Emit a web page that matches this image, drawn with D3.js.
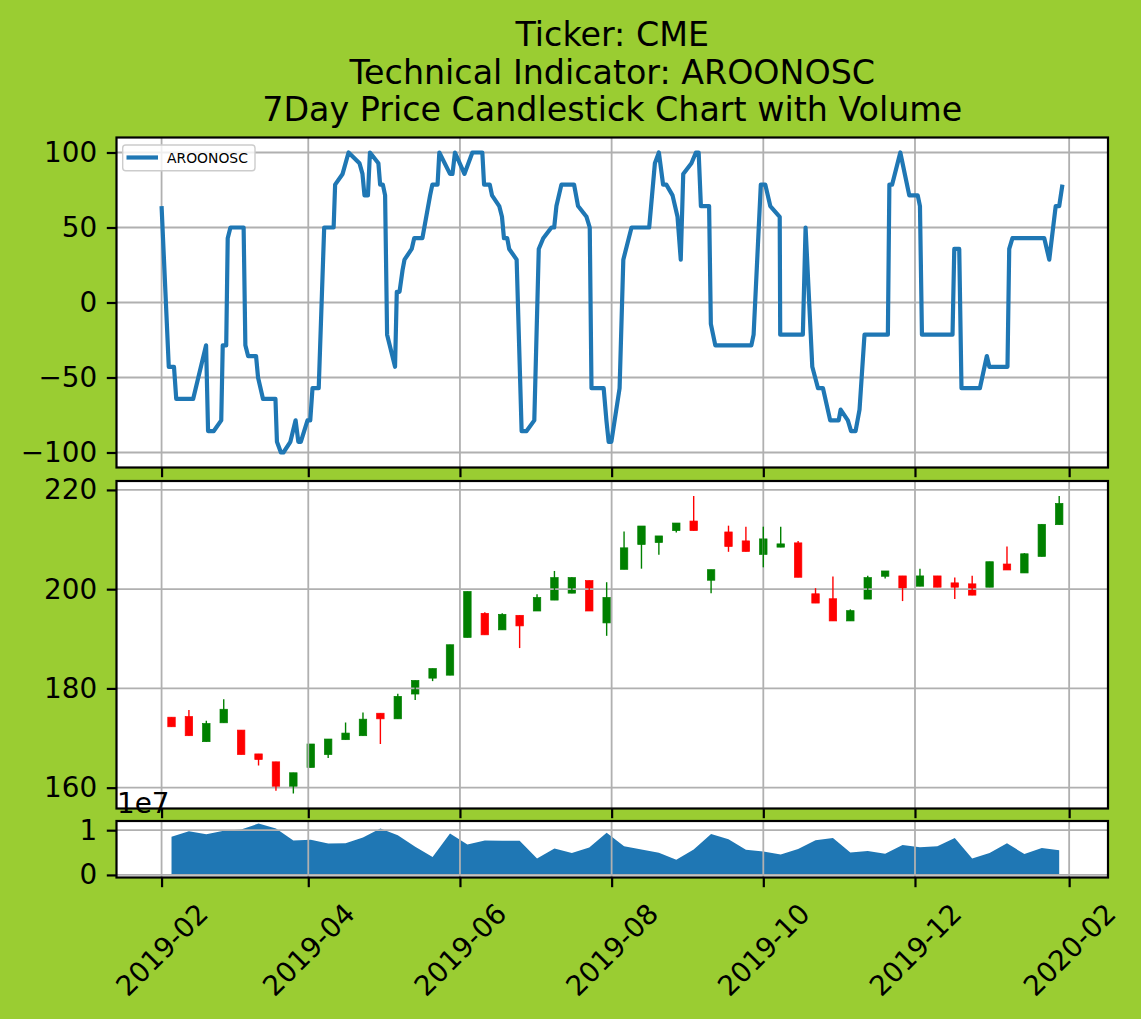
<!DOCTYPE html>
<html>
<head>
<meta charset="utf-8">
<script src="https://cdn.jsdelivr.net/npm/d3@7"></script>
<style>
  html, body { margin: 0; padding: 0; background: #9acd32; }
  svg { display: block; }
  text { font-family: "DejaVu Sans", sans-serif; fill: #000; }
</style>
</head>
<body>
<div id="chart"></div>
<script>
// ---- data ----
const titleLines = ['Ticker: CME', 'Technical Indicator: AROONOSC', '7Day Price Candlestick Chart with Volume'];

// AROONOSC, days after 2019-02-01
const aroonStart = '2019-02-01';
const aroonDay = [0, 2.9, 5, 5.9, 12.7, 17.9, 18.7, 21, 24, 24.6, 26, 26.6, 27.7, 33, 33.7, 34.8, 38, 38.8, 40.8, 45.8,
  46.4, 48, 49, 51.8, 53.9, 55, 56, 58.7, 59.8, 60.7, 63.2, 65.4, 69.2, 69.8, 72.8, 75.2, 79.6, 80.8, 81.6, 83,
  83.8, 87.2, 87.9, 89, 89.9, 90.7, 93.9, 94.6, 95.7, 96.9, 97.7, 100.6, 101.6, 104.9, 108, 108.9, 111, 111.7, 116, 117,
  118, 121.8, 125, 129, 129.7, 132, 132.9, 135.8, 136.9, 137.7, 139, 139.8, 142.8, 143.8, 144.8, 146.8, 149.9, 151.7, 153.5, 156.8,
  157.9, 158.8, 160.8, 165.9, 167.5, 170.9, 172.2, 172.9, 177.8, 178.9, 179.8, 180.9, 184.2, 185.7, 189, 196.1, 198.4, 200, 201.7, 203,
  205.5, 207.5, 208.8, 209.8, 213.1, 214.9, 216, 216.9, 220.2, 220.9, 222.7, 237.2, 238.1, 241, 242.8, 244.8, 248.6, 248.8, 257.9, 259,
  261.7, 264, 266, 268.9, 272.3, 273.1, 276, 277.3, 279.1, 280.7, 282.7, 292.1, 292.7, 293.8, 297.1, 300.7, 304.1, 305, 305.8, 318.1,
  318.8, 320.8, 321.7, 329.1, 331.9, 332.9, 340.2, 340.9, 342.2, 355, 357, 359.6, 361, 362.3];
const aroonValue = [64.29, -42.86, -42.86, -64.29, -64.29, -28.57, -85.71, -85.71, -78.57, -28.57, -28.57, 42.86, 50, 50, -28.57, -35.71, -35.71, -50, -64.29, -64.29,
  -92.86, -100, -100, -92.86, -78.57, -92.86, -92.86, -78.57, -78.57, -57.14, -57.14, 50, 50, 78.57, 85.71, 100, 92.86, 85.71, 71.43, 71.43,
  100, 92.86, 78.57, 78.57, 71.43, -21.43, -42.86, 7.14, 7.14, 21.43, 28.57, 35.71, 42.86, 42.86, 71.43, 78.57, 78.57, 100, 85.71, 85.71,
  100, 85.71, 100, 100, 78.57, 78.57, 71.43, 64.29, 57.14, 42.86, 42.86, 35.71, 28.57, -28.57, -85.71, -85.71, -78.57, 35.71, 42.86, 50,
  50, 64.29, 78.57, 78.57, 64.29, 57.14, 50, -57.14, -57.14, -78.57, -92.86, -92.86, -57.14, 28.57, 50, 50, 92.86, 100, 78.57, 78.57,
  71.43, 57.14, 28.57, 85.71, 92.86, 100, 100, 64.29, 64.29, -14.29, -28.57, -28.57, -21.43, 78.57, 78.57, 64.29, 57.14, -21.43, -21.43, 50,
  -42.86, -57.14, -57.14, -78.57, -78.57, -71.43, -78.57, -85.71, -85.71, -71.43, -21.43, -21.43, 78.57, 78.57, 100, 71.43, 71.43, 64.29, -21.43, -21.43,
  35.71, 35.71, -57.14, -57.14, -35.71, -42.86, -42.86, 35.71, 42.86, 42.86, 28.57, 64.29, 64.29, 78.57];

// weekly candles
const candleDates = ['2019-02-05', '2019-02-12', '2019-02-19', '2019-02-26', '2019-03-05', '2019-03-12', '2019-03-19', '2019-03-26',
  '2019-04-02', '2019-04-09', '2019-04-16', '2019-04-23', '2019-04-30', '2019-05-07', '2019-05-14', '2019-05-21', '2019-05-28',
  '2019-06-04', '2019-06-11', '2019-06-18', '2019-06-25', '2019-07-02', '2019-07-09', '2019-07-16', '2019-07-23', '2019-07-30',
  '2019-08-06', '2019-08-13', '2019-08-20', '2019-08-27', '2019-09-03', '2019-09-10', '2019-09-17', '2019-09-24', '2019-10-01',
  '2019-10-08', '2019-10-15', '2019-10-22', '2019-10-29', '2019-11-05', '2019-11-12', '2019-11-19', '2019-11-26', '2019-12-03',
  '2019-12-10', '2019-12-17', '2019-12-24', '2019-12-31', '2020-01-07', '2020-01-14', '2020-01-21', '2020-01-28'];
const openPrice = [174.2, 174.33, 169.27, 173.07, 171.6, 166.8, 165.2, 160.27, 164.07, 166.67, 169.67, 170.47, 175, 173.87, 178.87, 182.07, 182.67,
  190.27, 195.13, 191.8, 194.73, 195.6, 197.8, 199.2, 201.73, 193.2, 204, 209, 209.4, 211.8, 213.73, 201.8, 211.53, 209.73, 207,
  208.47, 209.33, 199.07, 198.07, 193.6, 198, 202.6, 202.67, 200.6, 202.67, 201.27, 201.07, 200.4, 205.07, 203.27, 206.6, 213];
const highPrice = [174.2, 175.67, 173.47, 177.8, 171.6, 166.8, 165.2, 163, 168.8, 169.8, 173.13, 175.13, 175, 178.93, 181.6, 184, 188.8,
  199.53, 195.33, 195.13, 194.73, 199, 203.67, 202.4, 201.73, 201.4, 211.6, 212.73, 210.73, 213.33, 218.8, 203.93, 212.8, 212.6, 212.6,
  212.6, 209.73, 200.2, 202.53, 195.93, 202.73, 203.67, 202.67, 204.13, 202.67, 202.33, 202.73, 205.53, 208.6, 207.27, 213.07, 218.8];
const lowPrice = [172.27, 170.47, 169.27, 173.07, 166.67, 164.47, 159.4, 158.8, 164.07, 166, 169.67, 170.47, 168.8, 173.87, 177.67, 181.47, 182.67,
  190.27, 190.8, 191.8, 188.13, 195.6, 197.8, 199.2, 195.6, 190.6, 204, 204.13, 206.93, 211.4, 211.8, 199.2, 207.53, 207.6, 204.4,
  208.47, 202.4, 197.2, 193.6, 193.6, 198, 202.13, 197.6, 200.6, 200.4, 198, 198.8, 200.4, 203.87, 203.27, 206.6, 213];
const closePrice = [172.27, 170.47, 172.93, 175.8, 166.67, 165.67, 160.27, 163, 168.8, 169.8, 171, 173.8, 173.87, 178.4, 181.6, 184, 188.8,
  199.53, 190.8, 194.93, 192.6, 198.33, 202.33, 202.33, 195.6, 198.33, 208.33, 212.73, 210.73, 213.33, 211.8, 203.93, 208.6, 207.6, 210.13,
  209.13, 202.4, 197.2, 193.6, 195.67, 202.33, 203.67, 200.2, 202.67, 200.4, 200.4, 198.8, 205.53, 203.87, 207.13, 213.07, 217.27];
const volume = [8.52e6, 9.78e6, 9.11e6, 9.85e6, 1.015e7, 1.148e7, 1.04e7, 7.7e6, 7.85e6, 7.0e6, 7.1e6, 8.37e6, 1.037e7, 8.89e6, 6.3e6, 4.0e6, 9.26e6,
  6.8e6, 7.7e6, 7.63e6, 7.63e6, 3.7e6, 5.93e6, 4.89e6, 6.15e6, 9.4e6, 6.39e6, 5.71e6, 4.96e6, 3.38e6, 5.71e6, 9.17e6, 7.97e6, 5.64e6, 5.26e6,
  4.59e6, 5.79e6, 7.74e6, 8.27e6, 5.04e6, 5.34e6, 4.74e6, 6.69e6, 6.17e6, 6.39e6, 8.27e6, 3.68e6, 4.89e6, 7.07e6, 4.66e6, 6.02e6, 5.49e6];

// ticks
const xTickDates = ['2019-02-01', '2019-04-01', '2019-06-01', '2019-08-01', '2019-10-01', '2019-12-01', '2020-02-01'];
const aroonTicks = [-100, -50, 0, 50, 100];
const priceTicks = [160, 180, 200, 220];
const volumeTicks = [0, 1e7];

// ---- layout ----
const W = 1141, H = 1019;
const left = 116.5, right = 1108;
const panels = {
  top: { y0: 137.5, y1: 467.5 },
  mid: { y0: 481, y1: 808.5 },
  bot: { y0: 821, y1: 877.5 },
};
const FS = 27.8, tickLen = 9.7, tickPad = 9.7;
const gridColor = '#b0b0b0';
const blue = '#1f77b4';
const candleWidthDays = 3;

const parse = d3.timeParse('%Y-%m-%d');
const start = parse(aroonStart);
const dayToDate = d => new Date(start.getTime() + d * 864e5);

const aroon = aroonDay.map((d, i) => ({ date: dayToDate(d), value: aroonValue[i] }));
const candles = candleDates.map((d, i) => ({
  date: parse(d), open: openPrice[i], high: highPrice[i], low: lowPrice[i], close: closePrice[i], volume: volume[i],
}));

// matplotlib style 5% margins
function padded(lo, hi) {
  const m = (hi - lo) * 0.05;
  return [lo - m, hi + m];
}

const halfW = candleWidthDays / 2 * 864e5;
const xMin = Math.min(d3.min(aroon, d => +d.date), d3.min(candles, d => +d.date - halfW));
const xMax = Math.max(d3.max(aroon, d => +d.date), d3.max(candles, d => +d.date + halfW));
const x = d3.scaleTime()
  .domain(padded(xMin, xMax).map(v => new Date(v)))
  .range([left, right]);

const yTop = d3.scaleLinear()
  .domain(padded(d3.min(aroonValue), d3.max(aroonValue)))
  .range([panels.top.y1, panels.top.y0]);
const yMid = d3.scaleLinear()
  .domain(padded(d3.min(lowPrice), d3.max(highPrice)))
  .range([panels.mid.y1, panels.mid.y0]);
const yBot = d3.scaleLinear()
  .domain(padded(0, d3.max(volume)))
  .range([panels.bot.y1, panels.bot.y0]);

const svg = d3.select('#chart').append('svg')
  .attr('width', W)
  .attr('height', H);

svg.append('rect').attr('width', W).attr('height', H).attr('fill', '#9acd32');

// title
svg.append('g').selectAll('text')
  .data(titleLines)
  .join('text')
  .attr('x', (left + right) / 2)
  .attr('y', (d, i) => 46 + i * 37.5)
  .attr('text-anchor', 'middle')
  .style('font-size', '33.3px')
  .text(d => d);

const minus = v => (v < 0 ? '\u2212' + Math.abs(v) : String(v));
const xTicks = xTickDates.map(parse);

function panel(key, yScale, yTicks, yFormat, drawUnder, drawOver, showXLabels) {
  const p = panels[key];
  const g = svg.append('g');
  g.append('rect')
    .attr('x', left).attr('y', p.y0)
    .attr('width', right - left).attr('height', p.y1 - p.y0)
    .attr('fill', '#fff');

  const clipId = 'clip-' + key;
  svg.append('clipPath').attr('id', clipId)
    .append('rect')
    .attr('x', left).attr('y', p.y0)
    .attr('width', right - left).attr('height', p.y1 - p.y0);
  const plot = g.append('g').attr('clip-path', `url(#${clipId})`);

  drawUnder(plot);

  // grid
  plot.append('g').selectAll('line.gx')
    .data(xTicks)
    .join('line')
    .attr('x1', d => x(d)).attr('x2', d => x(d))
    .attr('y1', p.y0).attr('y2', p.y1)
    .attr('stroke', gridColor).attr('stroke-width', 1.8);
  plot.append('g').selectAll('line.gy')
    .data(yTicks)
    .join('line')
    .attr('x1', left).attr('x2', right)
    .attr('y1', d => yScale(d)).attr('y2', d => yScale(d))
    .attr('stroke', gridColor).attr('stroke-width', 1.8);

  drawOver(plot);

  // axes
  const ay = g.append('g')
    .attr('transform', `translate(${left},0)`)
    .call(d3.axisLeft(yScale).tickValues(yTicks).tickSize(tickLen).tickPadding(tickPad).tickFormat(yFormat));
  const ax = g.append('g')
    .attr('transform', `translate(0,${p.y1})`)
    .call(d3.axisBottom(x).tickValues(xTicks).tickSize(tickLen).tickPadding(tickPad).tickFormat(d3.timeFormat('%Y-%m')));
  [ay, ax].forEach(a => {
    a.select('.domain').remove();
    a.selectAll('.tick line').attr('stroke', '#000').attr('stroke-width', 2.2);
    a.selectAll('.tick text').style('font-size', FS + 'px').style('font-family', '"DejaVu Sans", sans-serif').attr('fill', '#000');
  });
  if (showXLabels) {
    ax.selectAll('.tick text')
      .attr('y', 0).attr('dy', null)
      .attr('text-anchor', 'middle')
      .attr('dominant-baseline', 'central')
      .attr('transform', `translate(0,${tickLen + tickPad + 53}) rotate(-45)`);
  } else {
    ax.selectAll('.tick text').remove();
  }

  // frame
  g.append('rect')
    .attr('x', left).attr('y', p.y0)
    .attr('width', right - left).attr('height', p.y1 - p.y0)
    .attr('fill', 'none').attr('stroke', '#000').attr('stroke-width', 2.2);
  return g;
}

// top: AROONOSC line
panel('top', yTop, aroonTicks, minus, () => {}, plot => {
  plot.append('path')
    .datum(aroon)
    .attr('fill', 'none')
    .attr('stroke', blue)
    .attr('stroke-width', 4.2)
    .attr('stroke-linejoin', 'round')
    .attr('d', d3.line().x(d => x(d.date)).y(d => yTop(d.value)));
}, false);

// legend
const lg = svg.append('g');
lg.append('rect')
  .attr('x', 122.7).attr('y', 145).attr('width', 132.3).attr('height', 25.7)
  .attr('rx', 3)
  .attr('fill', '#fff').attr('fill-opacity', 0.8)
  .attr('stroke', '#cccccc').attr('stroke-width', 1.4);
lg.append('line')
  .attr('x1', 126.5).attr('x2', 158).attr('y1', 157.5).attr('y2', 157.5)
  .attr('stroke', blue).attr('stroke-width', 4.2);
lg.append('text')
  .attr('x', 167).attr('y', 162.5)
  .style('font-size', '13.9px')
  .text('AROONOSC');

// middle: candlesticks
const candleColor = d => (d.close >= d.open ? '#008000' : '#ff0000');
panel('mid', yMid, priceTicks, d => String(d), plot => {
  plot.append('g').selectAll('rect')
    .data(candles)
    .join('rect')
    .attr('x', d => x(new Date(+d.date - halfW)))
    .attr('width', d => x(new Date(+d.date + halfW)) - x(new Date(+d.date - halfW)))
    .attr('y', d => yMid(Math.max(d.open, d.close)))
    .attr('height', d => Math.max(1, Math.abs(yMid(d.open) - yMid(d.close))))
    .attr('fill', candleColor)
    .attr('stroke', candleColor)
    .attr('stroke-width', 0.7);
}, plot => {
  plot.append('g').selectAll('line')
    .data(candles)
    .join('line')
    .attr('x1', d => x(d.date)).attr('x2', d => x(d.date))
    .attr('y1', d => yMid(d.high)).attr('y2', d => yMid(d.low))
    .attr('stroke', candleColor)
    .attr('stroke-width', 1.4);
}, false);

// bottom: volume
panel('bot', yBot, volumeTicks, d => String(d / 1e7), plot => {
  plot.append('path')
    .datum(candles)
    .attr('fill', blue)
    .attr('d', d3.area().x(d => x(d.date)).y0(yBot(0)).y1(d => yBot(d.volume)));
}, () => {}, true);

svg.append('text')
  .attr('x', left + 0.5).attr('y', 813)
  .style('font-size', FS + 'px')
  .text('1e7');
</script>
</body>
</html>
